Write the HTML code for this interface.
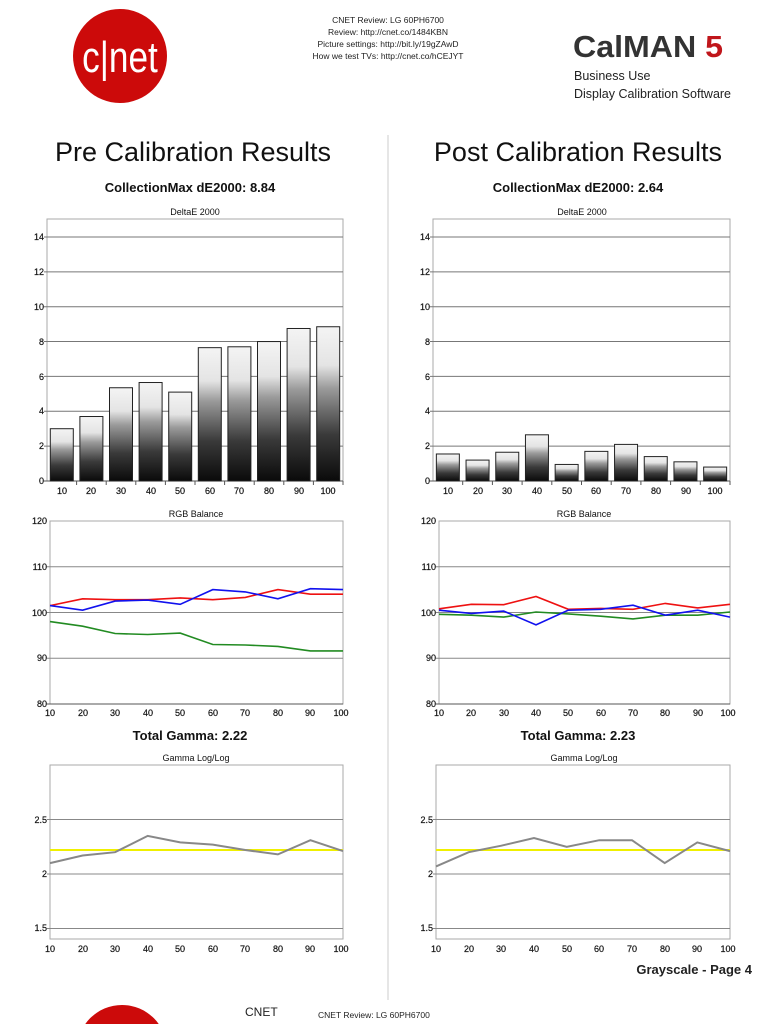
<!DOCTYPE html>
<html><head><meta charset="utf-8"><style>
html,body{margin:0;padding:0;background:#fff;width:768px;height:1024px;overflow:hidden}
svg{display:block;font-family:"Liberation Sans",sans-serif}
</style></head><body>
<svg id="s" width="768" height="1024" viewBox="0 0 768 1024" xmlns="http://www.w3.org/2000/svg">
<defs>
<linearGradient id="bg" x1="0" y1="1" x2="0" y2="0">
<stop offset="0" stop-color="#0a0a0a"/><stop offset="0.3" stop-color="#3a3a3a"/><stop offset="0.6" stop-color="#9a9a9a"/><stop offset="0.75" stop-color="#e4e4e4"/><stop offset="1" stop-color="#f4f4f4"/>
</linearGradient>
<clipPath id="pg"><rect x="0" y="0" width="768" height="1024"/></clipPath>
</defs>
<g clip-path="url(#pg)">
<circle cx="120" cy="56" r="47" fill="#cc0a0a"/>
<text x="120" y="72" font-size="44" fill="#fff" text-anchor="middle" transform="translate(120 0) scale(0.8 1) translate(-120 0)">c|net</text>
<g font-size="8.5" fill="#222" text-anchor="middle">
<text x="388" y="23">CNET Review: LG 60PH6700</text>
<text x="388" y="35">Review: http://cnet.co/1484KBN</text>
<text x="388" y="47">Picture settings: http://bit.ly/19gZAwD</text>
<text x="388" y="59">How we test TVs: http://cnet.co/hCEJYT</text>
</g>
<text x="573" y="57" font-size="31" font-weight="bold" fill="#333" textLength="150" lengthAdjust="spacingAndGlyphs">CalMAN<tspan fill="#c0161b"> 5</tspan></text>
<text x="574" y="80" font-size="12.5" fill="#222">Business Use</text>
<text x="574" y="98" font-size="12.5" fill="#222">Display Calibration Software</text>
<line x1="388" y1="135" x2="388" y2="1000" stroke="#ddd" stroke-width="1.5"/>
<text x="193" y="161" font-size="27" text-anchor="middle" fill="#111">Pre Calibration Results</text>
<text x="578" y="161" font-size="27" text-anchor="middle" fill="#111">Post Calibration Results</text>
<text x="190" y="192" font-size="13" font-weight="bold" text-anchor="middle" fill="#111">CollectionMax dE2000: 8.84</text>
<text x="578" y="192" font-size="13" font-weight="bold" text-anchor="middle" fill="#111">CollectionMax dE2000: 2.64</text>
<g font-size="9" text-anchor="middle" fill="#111">
<text x="195" y="215">DeltaE 2000</text><text x="582" y="215">DeltaE 2000</text>
<text x="196" y="517">RGB Balance</text><text x="584" y="517">RGB Balance</text>
<text x="196" y="761">Gamma Log/Log</text><text x="584" y="761">Gamma Log/Log</text>
</g>
<text x="190" y="740" font-size="13" font-weight="bold" text-anchor="middle" fill="#111">Total Gamma: 2.22</text>
<text x="578" y="740" font-size="13" font-weight="bold" text-anchor="middle" fill="#111">Total Gamma: 2.23</text>
<text x="752" y="974" font-size="13" font-weight="bold" text-anchor="end" fill="#222">Grayscale - Page 4</text>
<circle cx="122" cy="1050" r="45" fill="#cc0a0a"/>
<text x="245" y="1016" font-size="12" fill="#222">CNET</text>
<text x="318" y="1018" font-size="8.5" fill="#222">CNET Review: LG 60PH6700</text>
</g>
<g font-size="9" fill="#111" text-anchor="end" stroke="#111" stroke-width="0.2">
<text x="44" y="484">0</text><text x="44" y="449">2</text><text x="44" y="414">4</text><text x="44" y="380">6</text><text x="44" y="345">8</text><text x="44" y="310">10</text><text x="44" y="275">12</text><text x="44" y="240">14</text>
<text x="430" y="484">0</text><text x="430" y="449">2</text><text x="430" y="414">4</text><text x="430" y="380">6</text><text x="430" y="345">8</text><text x="430" y="310">10</text><text x="430" y="275">12</text><text x="430" y="240">14</text>
<text x="47" y="524">120</text><text x="47" y="570">110</text><text x="47" y="616">100</text><text x="47" y="661">90</text><text x="47" y="707">80</text>
<text x="436" y="524">120</text><text x="436" y="570">110</text><text x="436" y="616">100</text><text x="436" y="661">90</text><text x="436" y="707">80</text>
<text x="47" y="823">2.5</text><text x="47" y="877">2</text><text x="47" y="931">1.5</text>
<text x="433" y="823">2.5</text><text x="433" y="877">2</text><text x="433" y="931">1.5</text>
</g>
<g font-size="9" fill="#111" text-anchor="middle" stroke="#111" stroke-width="0.2">
<text x="62" y="494">10</text><text x="91" y="494">20</text><text x="121" y="494">30</text><text x="151" y="494">40</text><text x="180" y="494">50</text><text x="210" y="494">60</text><text x="239" y="494">70</text><text x="269" y="494">80</text><text x="299" y="494">90</text><text x="328" y="494">100</text>
<text x="448" y="494">10</text><text x="478" y="494">20</text><text x="507" y="494">30</text><text x="537" y="494">40</text><text x="567" y="494">50</text><text x="596" y="494">60</text><text x="626" y="494">70</text><text x="656" y="494">80</text><text x="686" y="494">90</text><text x="715" y="494">100</text>
<text x="50" y="716">10</text><text x="83" y="716">20</text><text x="115" y="716">30</text><text x="148" y="716">40</text><text x="180" y="716">50</text><text x="213" y="716">60</text><text x="245" y="716">70</text><text x="278" y="716">80</text><text x="310" y="716">90</text><text x="341" y="716">100</text>
<text x="439" y="716">10</text><text x="471" y="716">20</text><text x="504" y="716">30</text><text x="536" y="716">40</text><text x="568" y="716">50</text><text x="601" y="716">60</text><text x="633" y="716">70</text><text x="665" y="716">80</text><text x="698" y="716">90</text><text x="728" y="716">100</text>
<text x="50" y="952">10</text><text x="83" y="952">20</text><text x="115" y="952">30</text><text x="148" y="952">40</text><text x="180" y="952">50</text><text x="213" y="952">60</text><text x="245" y="952">70</text><text x="278" y="952">80</text><text x="310" y="952">90</text><text x="341" y="952">100</text>
<text x="436" y="952">10</text><text x="469" y="952">20</text><text x="501" y="952">30</text><text x="534" y="952">40</text><text x="567" y="952">50</text><text x="599" y="952">60</text><text x="632" y="952">70</text><text x="665" y="952">80</text><text x="697" y="952">90</text><text x="728" y="952">100</text>
</g>
<g id="g"></g>
</svg>
<script>
var g=document.getElementById('g'),h='';
function L(x1,y1,x2,y2,c,w){h+='<line x1="'+x1+'" y1="'+y1+'" x2="'+x2+'" y2="'+y2+'" stroke="'+c+'" stroke-width="'+w+'"/>';}
function R(x,y,w,hh,f,s){h+='<rect x="'+x+'" y="'+y+'" width="'+w+'" height="'+hh+'" fill="'+f+'" stroke="'+s+'" stroke-width="1"/>';}
function P(pts,c,w){h+='<polyline points="'+pts.join(' ')+'" fill="none" stroke="'+c+'" stroke-width="'+w+'"/>';}
function de(l,r,vals){
 R(l,219,r-l,262,'none','#aaa');
 for(var t=2;t<=14;t+=2){var y=481-t*17.43;L(l-3,y,r,y,'#777',1);}
 L(l-3,481,r,481,'#555',1);
 var s=(r-l)/10;
 for(var i=0;i<10;i++){var c=l+s*(i+.5),hh=vals[i]*17.43;R(c-11.5,481-hh,23,hh,'url(#bg)','#222');L(l+s*(i+1),481,l+s*(i+1),485,'#555',1);}
}
de(47,343,[3.0,3.7,5.35,5.65,5.1,7.65,7.7,8.0,8.75,8.85]);
de(433,730,[1.55,1.2,1.65,2.65,0.95,1.7,2.1,1.4,1.1,0.8]);
function rgb(l,r,sets){
 R(l,521,r-l,183,'none','#aaa');
 [110,100,90].forEach(function(v){var y=521+(120-v)*4.575;L(l-3,y,r,y,'#888',1);});
 L(l-3,704,r,704,'#555',1);
 var s=(r-l)/9;
 sets.forEach(function(st){P(st[1].map(function(v,i){return (l+s*i).toFixed(1)+','+(521+(120-v)*4.575).toFixed(1);}),st[0],1.6);});
}
rgb(50,343,[['#228b22',[98,97,95.4,95.2,95.5,93,92.9,92.6,91.6,91.6]],['#ee1111',[101.5,103,102.8,102.8,103.2,102.8,103.3,105,104,104]],['#1111ee',[101.5,100.5,102.5,102.7,101.8,105,104.5,103,105.2,105]]]);
rgb(439,730,[['#228b22',[99.6,99.4,99,100.1,99.7,99.2,98.6,99.4,99.4,100.1]],['#ee1111',[100.8,101.8,101.7,103.5,100.7,100.9,100.7,102,101,101.8]],['#1111ee',[100.5,99.8,100.3,97.3,100.5,100.7,101.6,99.4,100.5,99]]]);
function gm(l,r,vals){
 R(l,765,r-l,174,'none','#aaa');
 [2.5,2,1.5].forEach(function(v){var y=874-(v-2)*109;L(l-3,y,r,y,'#888',1);});
 var s=(r-l)/9,yy=874-0.22*109;
 L(l,yy,r,yy,'#f0f000',2);
 P(vals.map(function(v,i){return (l+s*i).toFixed(1)+','+(874-(v-2)*109).toFixed(1);}),'#888',2);
}
gm(50,343,[2.10,2.17,2.20,2.35,2.29,2.27,2.22,2.18,2.31,2.21]);
gm(436,730,[2.07,2.20,2.26,2.33,2.25,2.31,2.31,2.10,2.29,2.21]);
g.innerHTML=h;
</script>
</body></html>
